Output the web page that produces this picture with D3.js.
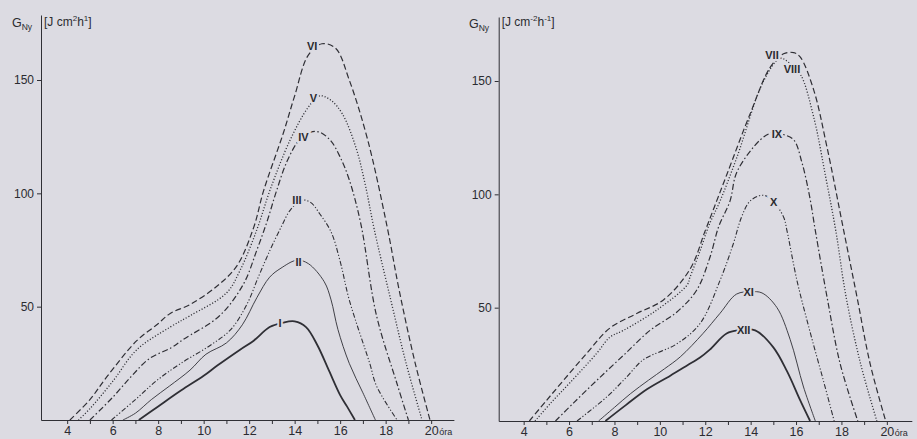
<!DOCTYPE html>
<html>
<head>
<meta charset="utf-8">
<script src="https://cdn.jsdelivr.net/npm/d3@7"></script>
<style>
  body { margin: 0; background: #dcdbe2; }
  svg { display: block; }
  text { font-family: "Liberation Sans", Arial, sans-serif; fill: #2b2b30; }
</style>
</head>
<body>
<div id="chart"></div>
<script>
// daily course of G_Ny per month, [hour, value]
var curveI    = [[7.15,0],[8,6],[9,13],[10,19.5],[10.6,24],[11.6,31],[12.2,35],[12.9,41],[13.5,43],[14,43.5],[14.5,41],[15,33],[15.5,22],[16,11],[16.3,6],[16.65,0]];
var curveII   = [[6.45,0],[7,3],[7.7,9],[8.5,15],[9.4,22],[10.1,29],[11,34],[11.7,42],[12.34,54],[12.9,63],[13.4,67],[14.1,70.5],[14.6,69],[15.3,61],[15.6,53],[15.9,40],[16.4,25],[17,12],[17.55,0]];
var curveIII  = [[5.95,0],[7,9],[7.95,17.5],[9,25],[10.3,33],[11.2,40],[11.9,51],[12.4,63],[12.92,75],[13.4,85],[13.8,92.5],[14.3,97],[14.7,96],[15.1,91],[15.6,83],[16,70],[16.4,53],[17.3,25],[17.6,15],[18.5,0]];
var curveIV   = [[5,0],[6,10],[6.8,19],[7.6,27],[8.6,32],[9.1,35.5],[10.7,46],[11.75,60],[12.34,75],[12.8,88],[13.2,101],[13.66,114],[14.2,123.5],[14.7,127],[15.1,127],[15.6,123],[16,116],[16.4,106],[16.9,87],[17.6,46],[18.5,16],[19,0]];
var curveV    = [[4.5,0],[5,5],[6,17],[7.06,31],[8.53,41],[9.4,46],[11,56],[11.6,66],[12.34,84],[12.92,101.5],[13.8,123.5],[14.6,138],[15.1,143],[15.6,141],[16.1,135],[16.7,120],[17.1,104],[17.5,84],[18.2,54],[18.9,25],[19.6,0]];
var curveVI   = [[4.12,0],[5,9],[5.74,19],[7.06,35],[7.94,42],[8.53,47],[9.41,51],[10.58,59],[11.46,68],[12.2,85],[12.63,101],[13.5,126.5],[14,143],[14.6,161],[15.2,166],[15.8,164],[16.4,150],[17.2,124],[18.05,86],[18.6,57],[19.3,25],[19.95,0]];
var curveVII  = [[4.25,0],[5,9],[5.76,18],[6.79,30],[7.8,41],[9,47.5],[10.17,53.5],[11.33,67],[12,84],[12.5,97],[12.96,109],[13.98,135.6],[14.86,156],[15.45,162],[15.9,162.5],[16.19,160.5],[16.78,146],[17.36,121],[18.1,84],[18.68,55],[19.27,25],[19.95,0]];
var curveVIII = [[4.5,0],[5.2,8],[6.05,17],[7.23,30],[7.8,37],[8.4,40],[9.87,49],[11.2,60],[11.33,63.5],[11.77,75],[12.15,86],[12.65,97],[13.4,116.5],[14.57,150],[15.3,160],[15.7,158],[16.19,153],[16.78,134],[17.3,108],[17.75,84],[18.2,55],[18.85,25],[19.56,0]];
var curveIX   = [[5.4,0],[6.2,8],[7.23,18],[8.4,29],[9.57,40],[10.74,48],[11.62,57.7],[12.2,72],[12.6,86],[13.09,97],[13.4,110],[14.42,124],[14.9,127],[15.4,126.5],[15.9,124],[16.26,114],[16.6,99],[16.85,84],[17.36,55],[17.95,25],[18.72,0]];
var curveX    = [[6.35,0],[7.67,10.7],[8.5,19],[9.27,27],[10.74,34],[11.77,43],[12.65,62],[13.23,78],[13.6,90],[13.97,97],[14.5,99.6],[14.9,98],[15.45,90],[15.6,84],[16.04,62],[16.6,40],[17.2,18],[17.68,0]];
var curveXI   = [[7.3,0],[8,6],[8.7,12],[9.5,18],[10.2,23],[10.9,28.3],[11.9,38.6],[12.65,47.5],[13.38,56],[14,57],[14.5,56.5],[15.16,50],[15.74,36],[16.33,15],[16.85,0]];
var curveXII  = [[7.6,0],[8.5,7],[9.43,14],[10.46,20],[11.2,24.5],[11.77,28],[12.2,31.5],[12.94,38.6],[13.5,40],[14.2,40],[15,32.5],[15.6,22],[16.19,9],[16.62,0]];

var monthsLeft  = ["I","II","III","IV","V","VI"];
var monthsRight = ["VII","VIII","IX","X","XI","XII"];
// where each month's roman numeral sits, [hour, value]
var labelsLeft  = [[13.36,42.7],[14.17,69.8],[14.1,97],[14.39,125],[14.83,141.9],[14.77,165]];
var labelsRight = [[14.94,161.3],[15.82,155.4],[15.16,126.8],[15.01,96.7],[13.91,57],[13.69,40.1]];

var hourTicks = [4,5,6,7,8,9,10,11,12,13,14,15,16,17,18,19,20];
var valueTicks = [50,100,150];

var styles = {
  thick:      {w: 1.8, dash: null},
  thin:       {w: 0.9, dash: null},
  dashdotdot: {w: 1.1, dash: "5,2,1.2,2,1.2,2"},
  dashdot:    {w: 1.2, dash: "6,2.5,1.5,2.5"},
  dot:        {w: 1.3, dash: "1.1,1.9"},
  dash:       {w: 1.2, dash: "6,3"}
};

var bg = "#dcdbe2";
var ink = "#2f2f35";

var svg = d3.select("#chart").append("svg")
  .attr("width", 917)
  .attr("height", 439);

svg.append("rect").attr("width", 917).attr("height", 439).attr("fill", bg);

var panels = [
  {x0: 41, x1: 453.9, hMin: 2.85, hMax: 21, y0: 420, yTop: 15,
   unit: ["2", "1"], gx: 12, gy: 27,
   series: [curveI, curveII, curveIII, curveIV, curveV, curveVI],
   kinds: ["thick","thin","dashdotdot","dashdot","dot","dash"],
   names: monthsLeft, labels: labelsLeft},
  {x0: 498.7, x1: 911.8, hMin: 2.9, hMax: 21.1, y0: 421, yTop: 17,
   unit: ["-2", "-1"], gx: 469, gy: 28,
   series: [curveVII, curveVIII, curveIX, curveX, curveXI, curveXII],
   kinds: ["dash","dot","dashdot","dashdotdot","thin","thick"],
   names: monthsRight, labels: labelsRight}
];

panels.forEach(function(p) {
  var pxPerUnit = 340 / 150;
  var x = d3.scaleLinear().domain([p.hMin, p.hMax]).range([p.x0, p.x1]);
  var y = d3.scaleLinear().domain([0, (p.y0 - p.yTop) / pxPerUnit]).range([p.y0, p.yTop]);

  var g = svg.append("g");

  // y axis
  var yAxis = g.append("g")
    .attr("transform", "translate(" + p.x0 + ",0)")
    .call(d3.axisLeft(y).tickValues(valueTicks).tickSize(4).tickSizeOuter(0).tickPadding(3));
  yAxis.selectAll("text").attr("font-size", "12px").attr("font-family", "Liberation Sans, Arial, sans-serif").attr("fill", ink);

  // x axis
  var xAxis = g.append("g")
    .attr("transform", "translate(0," + p.y0 + ")")
    .call(d3.axisBottom(x).tickValues(hourTicks).tickSize(4).tickSizeOuter(0).tickPadding(2)
      .tickFormat(function(d) { return d % 2 === 0 ? d : ""; }));
  xAxis.selectAll("text").attr("font-size", "12.5px").attr("font-family", "Liberation Sans, Arial, sans-serif").attr("fill", ink);

  g.selectAll(".domain, .tick line").attr("stroke", ink).attr("stroke-width", 1);

  g.append("text")
    .attr("x", x(20) + 8)
    .attr("y", p.y0 + 15)
    .attr("font-size", "9px")
    .text("óra");

  // axis title
  var t = g.append("text").attr("x", p.gx).attr("y", p.gy).attr("font-size", "12.5px");
  t.append("tspan").text("G");
  t.append("tspan").attr("dy", 3).attr("font-size", "8.5px").text("Ny");

  var u = g.append("text").attr("x", p.x0 + 3).attr("y", 26).attr("font-size", "12px");
  u.append("tspan").text("[J cm");
  u.append("tspan").attr("dy", -5).attr("font-size", "8px").text(p.unit[0]);
  u.append("tspan").attr("dy", 5).text("h");
  u.append("tspan").attr("dy", -5).attr("font-size", "8px").text(p.unit[1]);
  u.append("tspan").attr("dy", 5).text("]");

  var line = d3.line()
    .x(function(d) { return x(d[0]); })
    .y(function(d) { return y(d[1]); })
    .curve(d3.curveCatmullRom.alpha(0.5));

  p.series.forEach(function(s, i) {
    var st = styles[p.kinds[i]];
    g.append("path")
      .datum(s)
      .attr("d", line)
      .attr("fill", "none")
      .attr("stroke", ink)
      .attr("stroke-width", st.w)
      .attr("stroke-dasharray", st.dash);
  });

  // month labels, with a paper-coloured halo that breaks the curve
  g.selectAll(".month")
    .data(p.names)
    .enter()
    .append("text")
      .attr("class", "month")
      .attr("x", function(d, i) { return x(p.labels[i][0]); })
      .attr("y", function(d, i) { return y(p.labels[i][1]) + 4; })
      .attr("text-anchor", "middle")
      .attr("font-size", "11px")
      .attr("font-weight", "bold")
      .attr("stroke", bg)
      .attr("stroke-width", 4)
      .attr("paint-order", "stroke")
      .text(function(d) { return d; });
});
</script>
</body>
</html>
